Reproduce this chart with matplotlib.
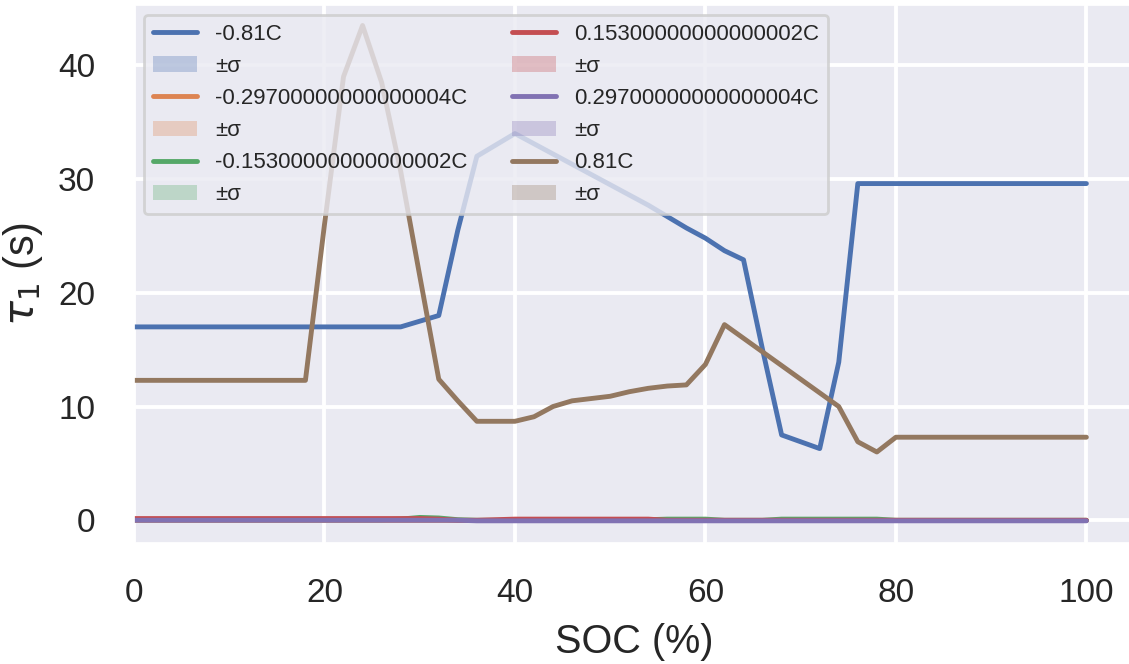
import numpy as np
import matplotlib
matplotlib.use("Agg")
import matplotlib.pyplot as plt
import seaborn as sns

# SOC grid (%)
soc = np.arange(0, 101, 2)

labels = ["-0.81C", "-0.29700000000000004C", "-0.15300000000000002C",
          "0.15300000000000002C", "0.29700000000000004C", "0.81C"]

# tau_1 (s), one value per SOC point
tau_m081 = [17.0, 17.0, 17.0, 17.0, 17.0, 17.0, 17.0, 17.0, 17.0, 17.0,
            17.0, 17.0, 17.0, 17.0, 17.0, 17.5, 18.0, 25.5, 32.0, 33.0,
            34.0, 33.1, 32.2, 31.3, 30.4, 29.5, 28.6, 27.7, 26.7, 25.7,
            24.8, 23.7, 22.9, 15.0, 7.5, 6.9, 6.3, 13.9, 29.6, 29.6,
            29.6, 29.6, 29.6, 29.6, 29.6, 29.6, 29.6, 29.6, 29.6, 29.6,
            29.6]
tau_m0297 = [0.05] * 51
tau_m0153 = [0.05, 0.05, 0.05, 0.05, 0.05, 0.05, 0.05, 0.05, 0.05, 0.05,
             0.05, 0.05, 0.05, 0.05, 0.1, 0.25, 0.2, 0.05, 0.0, 0.0,
             0.0, 0.0, 0.0, 0.0, 0.0, 0.0, 0.0, 0.05, 0.1, 0.1,
             0.1, 0.0, 0.0, 0.0, 0.1, 0.1, 0.1, 0.1, 0.1, 0.1,
             0.0, 0.0, 0.0, 0.0, 0.0, 0.0, 0.0, 0.0, 0.0, 0.0,
             0.0]
tau_p0153 = [0.15, 0.15, 0.15, 0.15, 0.15, 0.15, 0.15, 0.15, 0.15, 0.15,
             0.15, 0.15, 0.15, 0.15, 0.15, 0.15, 0.1, 0.0, 0.0, 0.05,
             0.1, 0.1, 0.1, 0.1, 0.1, 0.1, 0.1, 0.1, 0.0, 0.0,
             0.0, 0.0, 0.0, 0.0, 0.0, 0.0, 0.0, 0.0, 0.0, 0.0,
             0.0, 0.0, 0.0, 0.0, 0.0, 0.0, 0.0, 0.0, 0.0, 0.0,
             0.0]
tau_p0297 = [0.0, 0.0, 0.0, 0.0, 0.0, 0.0, 0.0, 0.0, 0.0, 0.0,
             0.0, 0.0, 0.0, 0.0, 0.0, 0.0, 0.0, 0.0, -0.05, -0.05,
             -0.05, -0.05, -0.05, -0.05, -0.05, -0.05, -0.05, -0.05, -0.05, -0.05,
             -0.05, -0.05, -0.05, -0.05, -0.05, -0.05, -0.05, -0.05, -0.05, -0.05,
             -0.05, -0.05, -0.05, -0.05, -0.05, -0.05, -0.05, -0.05, -0.05, -0.05,
             -0.05]
tau_p081 = [12.3, 12.3, 12.3, 12.3, 12.3, 12.3, 12.3, 12.3, 12.3, 12.3,
            26.0, 39.0, 43.5, 38.5, 30.7, 21.5, 12.4, 10.5, 8.7, 8.7,
            8.7, 9.1, 10.0, 10.5, 10.7, 10.9, 11.3, 11.6, 11.8, 11.9,
            13.7, 17.2, 16.0, 14.8, 13.6, 12.4, 11.2, 10.0, 6.9, 6.0,
            7.3, 7.3, 7.3, 7.3, 7.3, 7.3, 7.3, 7.3, 7.3, 7.3,
            7.3]

series = [tau_m081, tau_m0297, tau_m0153, tau_p0153, tau_p0297, tau_p081]
sigma = [0.0] * 51  # spread is too small to see

sns.set_theme(style="darkgrid")
plt.rcParams["font.family"] = ["Liberation Sans", "DejaVu Sans"]
plt.rcParams["grid.linewidth"] = 2.8
plt.rcParams["text.color"] = ".15"
plt.rcParams["axes.labelcolor"] = ".15"

colors = sns.color_palette("deep")

fig = plt.figure(figsize=(11.29, 6.64), dpi=100)
ax = fig.add_axes([134 / 1129, 121 / 664, 1000 / 1129, 538 / 664])

for lab, vals, col in zip(labels, series, colors):
    vals = np.array(vals)
    ax.plot(soc, vals, color=col, lw=3.5, label=lab, solid_capstyle="round")
    ax.fill_between(soc, vals - np.array(sigma), vals + np.array(sigma),
                    color=col, alpha=0.3, lw=0, label="±σ")

ax.set_xlim(0, 105)
ax.set_ylim(-2.0, 45.3)
ax.set_xticks([0, 20, 40, 60, 80, 100])
ax.set_yticks([0, 10, 20, 30, 40])
ax.tick_params(axis="x", labelsize=24, pad=19, colors=".15")
ax.tick_params(axis="y", labelsize=24, pad=22, colors=".15")
ax.set_xlabel("SOC (%)", fontsize=28.5, labelpad=10)
ax.set_ylabel(r"$\tau_1$ (s)", fontsize=30, labelpad=9)

leg = ax.legend(ncol=2, loc="upper left", fontsize=16, labelspacing=0.5,
                framealpha=0.8, borderaxespad=0.45)
leg.get_frame().set_linewidth(2)
leg.get_frame().set_edgecolor("0.8")

fig.savefig("out.png", dpi=100)
